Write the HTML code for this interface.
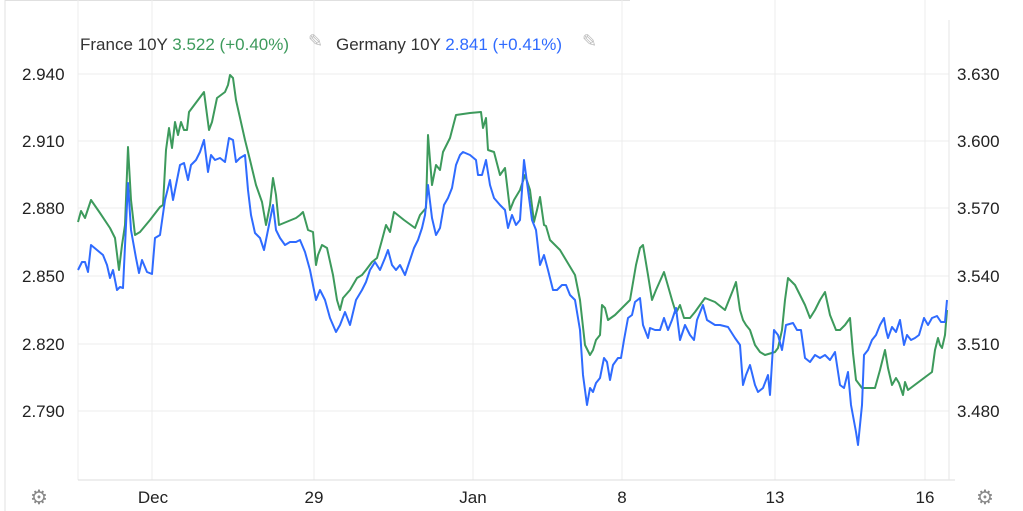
<!DOCTYPE html>
<html><head><meta charset="utf-8"><style>
html,body{margin:0;padding:0;background:#fff;}
svg{display:block;font-family:"Liberation Sans",sans-serif;}
</style></head><body>
<svg width="1023" height="511" viewBox="0 0 1023 511" xmlns="http://www.w3.org/2000/svg">
<rect width="1023" height="511" fill="#fff"/>
<line x1="5" y1="0" x2="5" y2="511" stroke="#e0e0e0"/>
<line x1="5" y1="0.5" x2="630" y2="0.5" stroke="#e0e0e0"/>
<g stroke="#ececec" stroke-width="1">
<line x1="78" y1="74" x2="949" y2="74"/>
<line x1="78" y1="141" x2="949" y2="141"/>
<line x1="78" y1="208" x2="949" y2="208"/>
<line x1="78" y1="276" x2="949" y2="276"/>
<line x1="78" y1="344" x2="949" y2="344"/>
<line x1="78" y1="411" x2="949" y2="411"/>
<line x1="78" y1="0" x2="78" y2="480"/>
<line x1="152" y1="0" x2="152" y2="480"/>
<line x1="314" y1="0" x2="314" y2="480"/>
<line x1="473" y1="0" x2="473" y2="480"/>
<line x1="622" y1="0" x2="622" y2="480"/>
<line x1="775" y1="0" x2="775" y2="480"/>
<line x1="925" y1="0" x2="925" y2="480"/>
</g>
<line x1="78" y1="480" x2="955" y2="480" stroke="#ddd"/>
<line x1="949" y1="20" x2="949" y2="480" stroke="#e6e6e6"/>
<g font-size="17" fill="#222">
<text x="22" y="80">2.940</text><text x="22" y="147">2.910</text><text x="22" y="214">2.880</text>
<text x="22" y="282">2.850</text><text x="22" y="350">2.820</text><text x="22" y="417">2.790</text>
<text x="957" y="80">3.630</text><text x="957" y="147">3.600</text><text x="957" y="214">3.570</text>
<text x="957" y="282">3.540</text><text x="957" y="350">3.510</text><text x="957" y="417">3.480</text>
</g>
<g font-size="17" fill="#222" text-anchor="middle">
<text x="153" y="503">Dec</text><text x="314" y="503">29</text><text x="473" y="503">Jan</text>
<text x="622" y="503">8</text><text x="775" y="503">13</text><text x="925" y="503">16</text>
</g>
<g font-size="17">
<text x="80" y="50" fill="#333">France 10Y <tspan fill="#3d9a5c">3.522 (+0.40%)</tspan></text>
<text x="336" y="50" fill="#333">Germany 10Y <tspan fill="#2f6bff">2.841 (+0.41%)</tspan></text>
<text x="308" y="47" fill="#bbb" font-size="18">✎</text>
<text x="582" y="47" fill="#bbb" font-size="18">✎</text>
</g>
<g font-size="20" fill="#888"><text x="30" y="504">⚙</text><text x="976" y="504">⚙</text></g>
<polyline fill="none" stroke="#3d9a5c" stroke-width="2" stroke-linejoin="round" points="78,222 81,211 85,218 91,200 100,213 110,228 115,238 119,270 122,245 125,225 128,147 131,200 135,235 140,232 150,220 160,207 163,205 166,150 169,128 172,148 175,122 178,135 181,122 184,130 187,130 189,112 204,92 209,130 212,122 217,98 225,92 228,85 230,75 233,78 236,100 245,140 250,160 256,185 262,202 266,225 270,205 273,178 276,195 279,225 296,218 300,215 303,212 308,230 313,232 316,265 318,255 322,245 327,248 333,275 337,300 340,310 343,298 350,290 357,278 362,275 366,270 372,262 377,258 382,240 386,225 390,232 394,212 404,220 415,228 420,215 426,208 428,135 432,185 436,165 440,170 443,152 450,138 456,115 470,113 481,112 483,128 486,118 488,150 494,152 500,175 505,168 510,210 514,200 520,190 525,175 530,190 534,222 537,210 540,197 544,225 546,226 550,240 555,245 560,250 575,275 580,300 585,345 590,355 593,350 596,340 600,335 602,305 605,308 608,320 615,315 630,300 636,265 640,248 643,245 648,275 652,300 656,290 664,272 672,300 676,313 680,305 684,318 690,318 695,312 700,305 705,298 715,302 725,310 733,290 736,282 740,310 743,320 746,325 750,330 755,345 760,352 765,355 775,352 778,348 782,330 785,300 788,278 795,285 800,295 805,305 810,318 815,310 820,300 825,292 830,315 836,330 840,330 845,325 850,318 853,353 856,380 862,388 875,388 880,370 885,350 888,368 892,385 896,378 899,383 903,395 905,382 908,390 932,372 935,350 938,338 940,345 942,348 945,335 947,310"/>
<polyline fill="none" stroke="#2f6bff" stroke-width="2" stroke-linejoin="round" points="78,270 82,262 85,262 88,272 91,245 97,250 103,255 107,265 110,278 113,270 117,290 120,287 123,288 128,183 131,230 136,258 139,273 142,260 147,272 152,274 155,238 160,235 165,200 170,180 173,200 176,185 180,165 184,163 188,180 191,165 196,160 200,152 204,140 208,172 211,155 215,160 220,158 225,162 229,138 233,140 236,162 240,158 245,155 248,190 251,215 255,233 260,238 264,250 269,225 273,205 276,230 280,238 285,245 290,242 296,242 300,240 305,252 310,270 316,300 320,290 325,300 330,318 336,332 340,325 345,312 350,325 356,300 362,290 366,282 370,270 375,262 380,270 385,258 388,250 392,265 396,270 400,265 405,275 410,260 414,248 418,240 422,228 425,215 428,185 432,218 436,235 440,228 444,205 448,198 452,188 456,165 460,155 463,152 470,155 476,160 478,175 482,175 486,160 490,185 494,198 500,205 505,210 508,228 512,215 516,225 520,220 524,160 528,190 532,220 536,230 540,265 544,255 548,270 553,290 557,290 562,285 566,285 570,295 575,300 580,330 583,375 587,405 590,388 593,392 596,383 600,378 604,358 607,362 610,380 613,365 618,358 621,358 624,340 628,318 632,315 635,302 640,298 643,325 648,338 650,328 655,330 660,330 664,318 668,330 672,320 676,308 680,340 685,325 690,335 694,340 697,320 703,305 707,320 715,325 720,325 728,327 735,338 740,345 743,385 746,375 750,365 755,385 758,392 763,388 768,375 770,395 774,330 778,335 782,350 786,325 793,323 797,330 801,330 805,358 810,362 815,355 820,358 825,355 830,360 835,352 840,385 844,388 848,372 851,405 856,432 858,445 862,405 864,355 868,350 872,340 876,335 880,325 884,318 886,330 888,338 892,327 896,332 900,320 904,345 907,335 911,340 915,338 919,335 924,318 928,325 932,318 937,316 941,322 945,322 947,300"/>
</svg>
</body></html>
